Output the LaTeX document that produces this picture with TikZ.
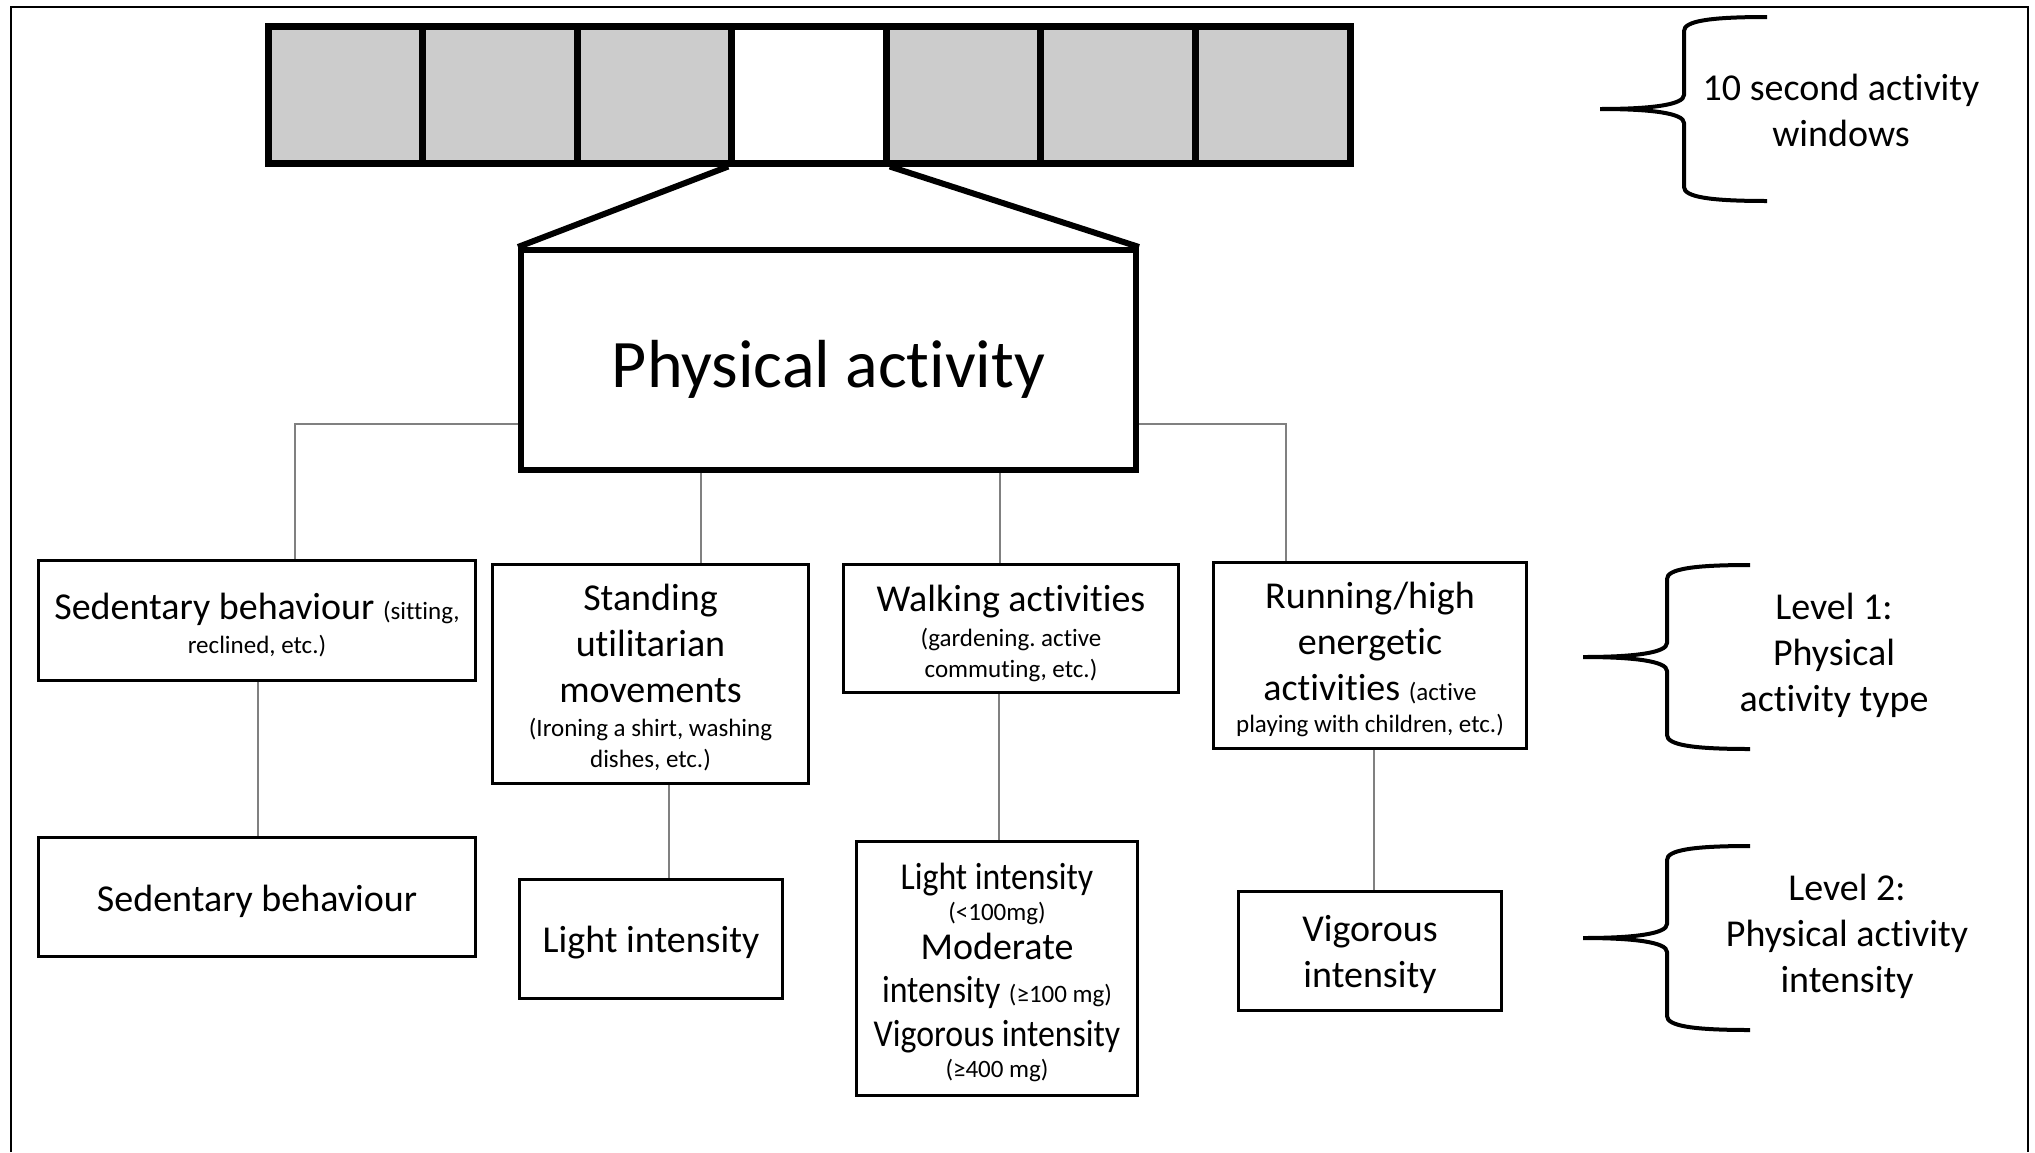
\documentclass[tikz,border=0pt]{standalone}
\usepackage{graphicx}
\usepackage{fontspec}
\setmainfont{Carlito}[Ligatures=CommonOff]
\frenchspacing
\newcommand\bigf{\fontsize{38}{46}\selectfont}
\newcommand\smf{\fontsize{25}{31}\selectfont}
\newcommand\cnd[1]{\scalebox{0.89}[1]{#1}}
\tikzset{
  box/.style={draw, line width=3pt, inner sep=0pt},
  txt/.style={align=center, font=\bigf, inner sep=0pt},
  conn/.style={draw=black!50, line width=1.5pt},
  cell/.style={draw, line width=7pt, minimum width=154.57pt, minimum height=137pt, inner sep=0pt},
  lbl/.style={align=center, font=\bigf, inner sep=0pt},
  bracepath/.style={line width=4pt},
  mybrace/.pic={
    \draw[bracepath] (167,-92) .. controls (110,-92) and (84,-88) .. (84,-78) -- (84,-14)
      .. controls (84,-4) and (50,0) .. (0,0)
      .. controls (50,0) and (84,4) .. (84,14) -- (84,78)
      .. controls (84,88) and (110,92) .. (167,92);
  }
}
\begin{document}
\begin{tikzpicture}[x=1pt,y=-1pt]
\useasboundingbox (0,0) rectangle (2035,1152);
% outer frame (no bottom edge)
\draw[line width=2.5pt] (11,1152) -- (11,7) -- (2028,7) -- (2028,1152);

% activity window bar
\foreach \i/\f in {1/black!20,2/black!20,3/black!20,4/white,5/black!20,6/black!20,7/black!20}{
  \node[cell, fill=\f] (c\i) at ({268+154.57*(\i-0.5)},94.5) {};
}

% main box
\node[draw, line width=6pt, inner sep=0pt, minimum width=615pt, minimum height=220pt] (pa) at (828.5,360) {};
\node[inner sep=0pt, font=\fontsize{68}{80}\selectfont] (pat) at ([yshift=-9pt]pa.center) {Physical activity};
\draw[line width=6pt] (c4.south west) -- (pa.north west);
\draw[line width=6pt] (c4.south east) -- (pa.north east);

% level 1 boxes
\node[box, minimum width=437pt, minimum height=120pt] (sed) at (257,620.5) {};
\node[txt] (sedt) at ([yshift=-5pt]sed.center)
  {Sedentary behaviour {\smf (sitting,}\\[-12pt]{\smf reclined, etc.)}};
\node[box, minimum width=316pt, minimum height=219pt] (std) at (650.5,674) {};
\node[txt] (stdt) at ([yshift=-4pt]std.center)
  {Standing\\utilitarian\\movements\\[-12pt]{\smf (Ironing a shirt, washing}\\[-15pt]{\smf dishes, etc.)}};
\node[box, minimum width=335pt, minimum height=128pt] (walk) at (1011,628.5) {};
\node[txt] (walkt) at ([yshift=-5pt]walk.center)
  {Walking activities\\[-11pt]{\smf (gardening. active}\\[-15pt]{\smf commuting, etc.)}};
\node[box, minimum width=313pt, minimum height=186pt] (run) at (1370,655.5) {};
\node[txt] (runt) at ([yshift=-4pt]run.center)
  {Running/high\\energetic\\activities {\smf (active}\\[-14pt]{\smf playing with children, etc.)}};

% level 2 boxes
\node[box, minimum width=437pt, minimum height=119pt] (sedc) at (257,897) {};
\node[txt] (sedct) at ([yshift=-4pt]sedc.center) {Sedentary behaviour};
\node[box, minimum width=263pt, minimum height=119pt] (light) at (651,939) {};
\node[txt] (lightt) at ([yshift=-4pt]light.center) {Light intensity};
\node[box, minimum width=281pt, minimum height=254pt] (lmv) at (997,968) {};
\node[txt] (lmvt) at ([yshift=-4pt]lmv.center)
  {\cnd{Light intensity}\\[-15pt]{\smf (<100mg)}\\[-7pt]Moderate\\[-3pt]\cnd{intensity} {\smf (≥100 mg)}\\[-2pt]\cnd{Vigorous intensity}\\[-15pt]{\smf (≥400 mg)}};
\node[box, minimum width=263pt, minimum height=119pt] (vig) at (1370,951) {};
\node[txt] (vigt) at ([yshift=-3pt]vig.center) {Vigorous\\intensity};

% connectors
\draw[conn] (pa.west |- 0,424) -| (sed.north -| 295,0);
\draw[conn] (pa.east |- 0,424) -| (run.north -| 1286,0);
\draw[conn] (pa.south -| 701,0) -- (std.north -| 701,0);
\draw[conn] (pa.south -| 1000,0) -- (walk.north -| 1000,0);
\draw[conn] (sed.south -| 258,0) -- (sedc.north -| 258,0);
\draw[conn] (std.south -| 669,0) -- (light.north -| 669,0);
\draw[conn] (walk.south -| 999,0) -- (lmv.north -| 999,0);
\draw[conn] (run.south -| 1374,0) -- (vig.north -| 1374,0);

% braces and labels
\pic at (1600,109) {mybrace};
\pic at (1583,657) {mybrace};
\pic at (1583,938) {mybrace};
\node[lbl] (l0) at (1841,110) {10 second activity\\windows};
\node[lbl] (l1) at (1834,655) {Level 1:\\Physical\\activity type};
\node[lbl] (l2) at (1847,936) {Level 2:\\Physical activity\\intensity};
\end{tikzpicture}
\end{document}
